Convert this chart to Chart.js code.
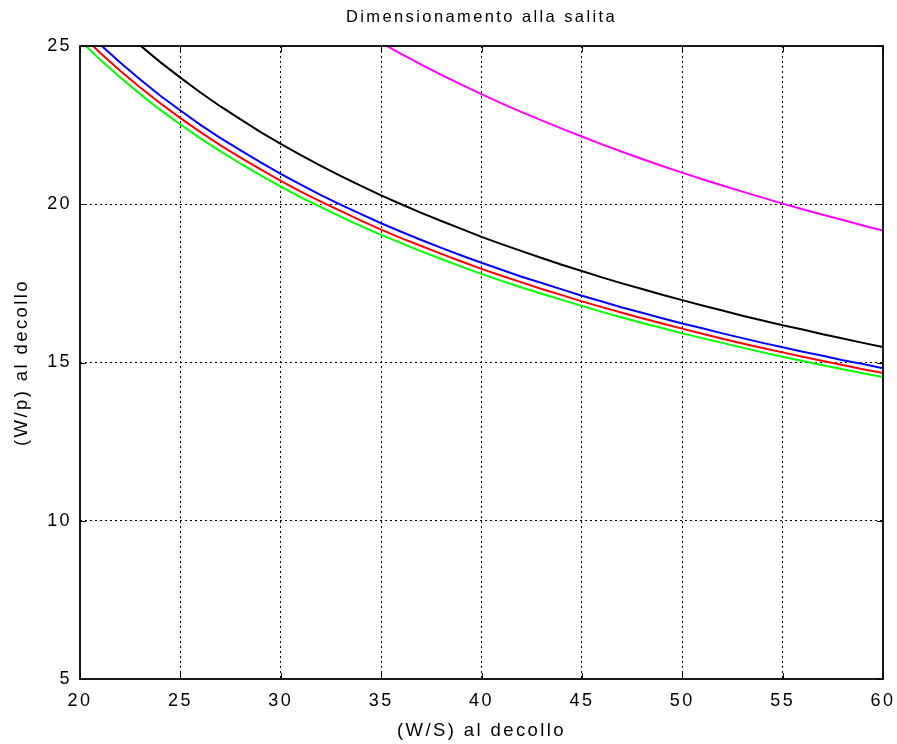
<!DOCTYPE html>
<html>
<head>
<meta charset="utf-8">
<title>Dimensionamento alla salita</title>
<script src="https://cdn.jsdelivr.net/npm/chart.js@4/dist/chart.umd.min.js"></script>
<style>
  html, body { margin: 0; padding: 0; background: #ffffff; }
  #wrap { width: 897px; height: 744px; }
</style>
</head>
<body>
<div id="wrap"><canvas id="c" width="897" height="744"></canvas></div>
<script>
// Carico alare al decollo (W/S)
const wsValues = [20, 21, 22, 23, 24, 25, 26, 27, 28, 29, 30, 31, 32, 33, 34, 35, 36, 37, 38, 39, 40,
                  41, 42, 43, 44, 45, 46, 47, 48, 49, 50, 51, 52, 53, 54, 55, 56, 57, 58, 59, 60];

// Rapporto peso/potenza (W/p) richiesto per ciascuna condizione di salita
const wpBlack = [26.83, 26.19, 25.58, 25.02, 24.49, 24.00, 23.53, 23.09, 22.68, 22.28, 21.91,
                 21.55, 21.21, 20.89, 20.58, 20.28, 20.00, 19.73, 19.47, 19.22, 18.97,
                 18.74, 18.52, 18.30, 18.09, 17.89, 17.69, 17.50, 17.32, 17.14, 16.97,
                 16.80, 16.64, 16.48, 16.33, 16.18, 16.04, 15.89, 15.76, 15.62, 15.49];
const wpBlue  = [25.67, 25.05, 24.48, 23.94, 23.43, 22.96, 22.51, 22.09, 21.70, 21.32, 20.96,
                 20.62, 20.29, 19.98, 19.69, 19.40, 19.13, 18.87, 18.62, 18.38, 18.15,
                 17.93, 17.71, 17.51, 17.31, 17.11, 16.93, 16.74, 16.57, 16.40, 16.23,
                 16.08, 15.92, 15.77, 15.62, 15.48, 15.34, 15.21, 15.07, 14.95, 14.82];
const wpRed   = [25.40, 24.79, 24.22, 23.69, 23.19, 22.72, 22.28, 21.86, 21.47, 21.10, 20.74,
                 20.40, 20.08, 19.78, 19.48, 19.20, 18.93, 18.68, 18.43, 18.19, 17.96,
                 17.74, 17.53, 17.32, 17.13, 16.93, 16.75, 16.57, 16.40, 16.23, 16.07,
                 15.91, 15.75, 15.60, 15.46, 15.32, 15.18, 15.05, 14.92, 14.79, 14.67];
const wpGreen = [25.18, 24.57, 24.01, 23.48, 22.98, 22.52, 22.08, 21.67, 21.28, 20.91, 20.56,
                 20.22, 19.91, 19.60, 19.31, 19.03, 18.77, 18.51, 18.27, 18.03, 17.80,
                 17.58, 17.37, 17.17, 16.98, 16.79, 16.60, 16.42, 16.25, 16.09, 15.92,
                 15.77, 15.62, 15.47, 15.32, 15.18, 15.05, 14.91, 14.79, 14.66, 14.54];
const wpMagenta = [null, null, null, null, null, null, null, null, null, null, null,
                   null, null, null, null, 25.10, 24.75, 24.41, 24.09, 23.78, 23.48,
                   23.19, 22.91, 22.65, 22.39, 22.14, 21.89, 21.66, 21.43, 21.21, 21.00,
                   20.79, 20.59, 20.40, 20.21, 20.02, 19.84, 19.67, 19.50, 19.33, 19.17];

const xTicks = [20, 25, 30, 35, 40, 45, 50, 55, 60];
const yTicks = [5, 10, 15, 20, 25];

const titleText = 'Dimensionamento alla salita';
const xTitle = '(W/S) al decollo';
const yTitle = '(W/p) al decollo';

const FONT = "'Liberation Sans', Arial, Helvetica, sans-serif";
const SPACING = '2.4px';

function pts(arr) {
  return wsValues.map((x, i) => ({ x: x, y: arr[i] }));
}

function line(arr, color) {
  return {
    data: pts(arr),
    borderColor: color,
    backgroundColor: color,
    borderWidth: 2,
    pointRadius: 0,
    tension: 0,
    spanGaps: false,
    clip: 0
  };
}

// Wider glyph spacing for all canvas text
const spacingPlugin = {
  id: 'spacing',
  beforeUpdate(chart) { chart.ctx.letterSpacing = SPACING; },
  beforeLayout(chart) { chart.ctx.letterSpacing = SPACING; },
  beforeDraw(chart) { chart.ctx.letterSpacing = SPACING; }
};

// Box around the plot area with small inward ticks on every side
const framePlugin = {
  id: 'frame',
  afterDatasetsDraw(chart) {
    const { ctx, chartArea: a, scales } = chart;
    const tl = 6;
    ctx.save();
    ctx.strokeStyle = '#000';
    ctx.lineWidth = 1;
    ctx.setLineDash([]);
    ctx.beginPath();
    xTicks.forEach(v => {
      const px = Math.round(scales.x.getPixelForValue(v)) + 0.5;
      ctx.moveTo(px, a.bottom); ctx.lineTo(px, a.bottom - tl);
      ctx.moveTo(px, a.top); ctx.lineTo(px, a.top + tl);
    });
    yTicks.forEach(v => {
      const py = Math.round(scales.y.getPixelForValue(v)) + 0.5;
      ctx.moveTo(a.left, py); ctx.lineTo(a.left + tl, py);
      ctx.moveTo(a.right, py); ctx.lineTo(a.right - tl, py);
    });
    ctx.stroke();
    ctx.lineWidth = 1.8;
    ctx.strokeRect(a.left, a.top, a.right - a.left, a.bottom - a.top);
    ctx.restore();
  }
};

const edgeHidden = (lo, hi) => ctx => {
  const v = ctx.tick ? ctx.tick.value : null;
  return (v === lo || v === hi) ? 'rgba(0,0,0,0)' : '#000000';
};

new Chart(document.getElementById('c'), {
  type: 'line',
  data: {
    datasets: [
      line(wpMagenta, '#ff00ff'),
      line(wpBlack, '#000000'),
      line(wpBlue, '#0000ff'),
      line(wpRed, '#ff0000'),
      line(wpGreen, '#00ff00')
    ]
  },
  options: {
    responsive: false,
    animation: false,
    devicePixelRatio: 1,
    layout: { padding: { left: 0, right: 14, top: 0, bottom: 0 } },
    plugins: {
      legend: { display: false },
      tooltip: { enabled: false },
      title: {
        display: true,
        text: titleText,
        fullSize: false,
        color: '#000',
        font: { family: FONT, size: 16.5, weight: 'normal', lineHeight: 1.2 },
        padding: { top: 7.5, bottom: 18.7 }
      }
    },
    scales: {
      x: {
        type: 'linear',
        min: 20, max: 60,
        afterFit(s) { s.height = 65; s.paddingLeft = 0; s.paddingRight = 0; },
        afterBuildTicks(s) { s.ticks = xTicks.map(v => ({ value: v })); },
        ticks: { color: '#000', padding: 11, font: { family: FONT, size: 18 }, maxRotation: 0 },
        grid: { color: edgeHidden(20, 60), lineWidth: 1, drawTicks: false },
        border: { display: false, dash: [2, 3] },
        title: {
          display: true, text: xTitle, color: '#000',
          font: { family: FONT, size: 18.5, lineHeight: 1.2 },
          padding: { top: 0, bottom: 1.5 }
        }
      },
      y: {
        type: 'linear',
        min: 5, max: 25,
        afterFit(s) { s.width = 80; s.paddingTop = 0; s.paddingBottom = 0; },
        afterBuildTicks(s) { s.ticks = yTicks.map(v => ({ value: v })); },
        ticks: { color: '#000', padding: 8, font: { family: FONT, size: 18 } },
        grid: { color: edgeHidden(5, 25), lineWidth: 1, drawTicks: false },
        border: { display: false, dash: [2, 3] },
        title: {
          display: true, text: yTitle, color: '#000',
          font: { family: FONT, size: 18.5, lineHeight: 1.2 },
          padding: { top: 11, bottom: 0 }
        }
      }
    }
  },
  plugins: [spacingPlugin, framePlugin]
});
</script>
</body>
</html>
